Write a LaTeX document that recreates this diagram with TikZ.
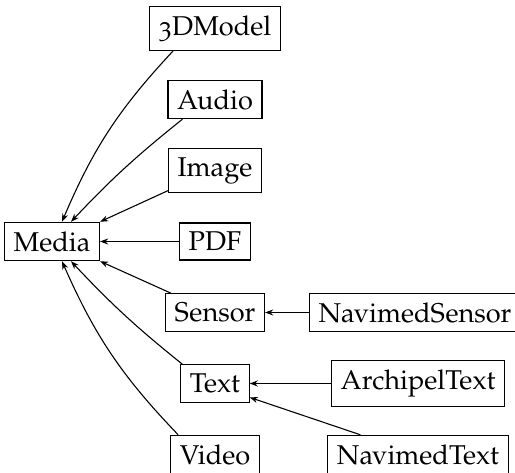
\documentclass[tikz,border=0pt]{standalone}
\usepackage[T1]{fontenc}
\usepackage[osf]{mathpazo}
\usetikzlibrary{arrows.meta}
\begin{document}
\begin{tikzpicture}[x=0.368pt,y=-0.368pt,
  cls/.style={draw,inner sep=3.333pt,font=\fontsize{10}{12}\selectfont},
  arr/.style={-{Stealth[length=3pt,width=2.2pt]},line width=0.4pt}]
\useasboundingbox (0,0) rectangle (515,473);
\node[cls] (media) at (52,241.5) {Media};
\node[cls] (m3d) at (215,28.5) {3DModel};
\node[cls] (audio) at (215,99.5) {Audio};
\node[cls] (image) at (215,170.5) {Image};
\node[cls] (pdf) at (215,241.5) {PDF};
\node[cls] (sensor) at (215,312.5) {Sensor};
\node[cls] (text) at (215,383.5) {Text};
\node[cls] (video) at (215,454.5) {Video};
\node[cls] (nsensor) at (415,312.5) {NavimedSensor};
\node[cls] (atext) at (418,383.5) {ArchipelText};
\node[cls] (ntext) at (418,454.5) {NavimedText};
\draw[arr] ([xshift=24*0.368pt]m3d.south west) to[bend right=10] ([xshift=58*0.368pt]media.north west);
\draw[arr] ([xshift=15*0.368pt]audio.south west) to[bend right=4] ([xshift=67*0.368pt]media.north west);
\draw[arr] ([yshift=1pt]image.south west) -- (media.north east);
\draw[arr] (pdf) -- (media);
\draw[arr] ([xshift=6*0.368pt]sensor.north west) -- (media.south east);
\draw[arr] ([xshift=2*0.368pt]text.north west) to[bend left=4] ([xshift=67*0.368pt]media.south west);
\draw[arr] ([xshift=8*0.368pt]video.north west) to[bend left=10] ([xshift=58*0.368pt]media.south west);
\draw[arr] (nsensor) -- (sensor);
\draw[arr] (atext) -- (text);
\draw[arr] ([xshift=33*0.368pt]ntext.north west) -- ([yshift=2pt]text.south east);
\end{tikzpicture}
\end{document}
